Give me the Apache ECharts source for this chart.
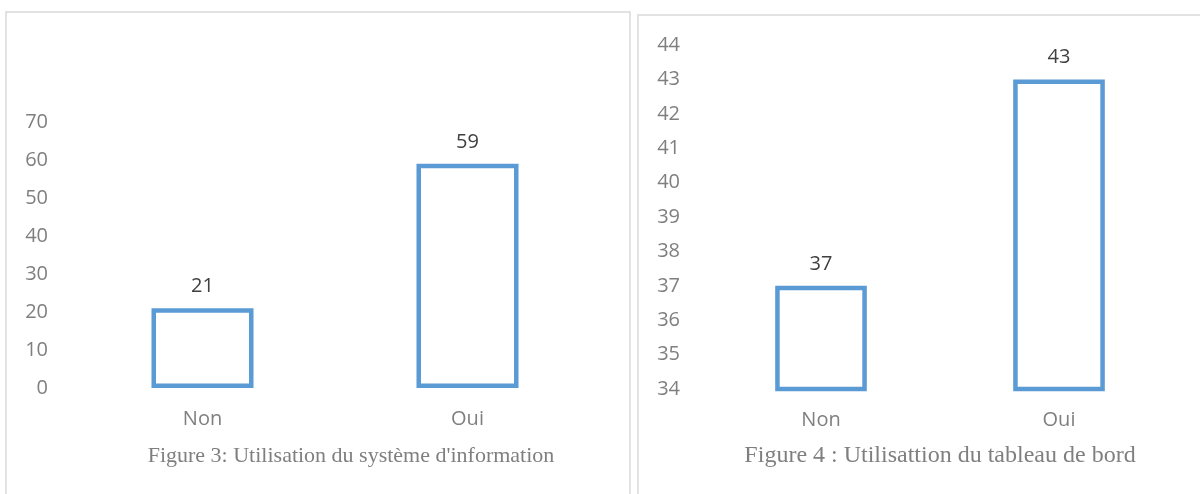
<!DOCTYPE html>
<html>
<head>
<meta charset="utf-8">
<script src="https://cdn.jsdelivr.net/npm/echarts@6/dist/echarts.min.js"></script>
<style>
  html, body { margin: 0; padding: 0; background: #fff; }
  #chart { width: 1200px; height: 494px; }
</style>
</head>
<body>
<div id="chart"></div>
<script>
// Figure 3 data
const categories = ['Non', 'Oui'];
const sysInfoValues = [21, 59];
const sysInfoTicks = [0, 10, 20, 30, 40, 50, 60, 70];
const sysInfoCaption = "Figure 3: Utilisation du système d'information";

// Figure 4 data
const tableauValues = [37, 43];
const tableauTicks = [34, 35, 36, 37, 38, 39, 40, 41, 42, 43, 44];
const tableauCaption = 'Figure 4 : Utilisattion du tableau de bord';

const sansFont = '"Open Sans", "Noto Sans", sans-serif';
const serifFont = '"Liberation Serif", "DejaVu Serif", serif';
const blue = '#5B9BD5';

function yAxisFor(ticks, gridIndex, margin) {
  return {
    type: 'value', gridIndex,
    min: ticks[0], max: ticks[ticks.length - 1],
    interval: ticks[1] - ticks[0],
    axisLine: { show: false }, axisTick: { show: false },
    splitLine: { show: false },
    axisLabel: { color: '#7f7f7f', fontSize: 20, fontFamily: sansFont, margin }
  };
}
function xAxisFor(gridIndex) {
  return {
    type: 'category', gridIndex, data: categories,
    axisLine: { show: false }, axisTick: { show: false },
    axisLabel: { color: '#7f7f7f', fontSize: 20, fontFamily: sansFont, margin: 21 }
  };
}
function barSeries(values, idx) {
  return {
    type: 'bar', xAxisIndex: idx, yAxisIndex: idx, data: values,
    barWidth: '38.5%',
    itemStyle: { color: '#ffffff', borderColor: blue, borderWidth: 4.5 },
    label: { show: true, position: 'top', distance: 12, color: '#404040',
             fontSize: 20, fontFamily: sansFont }
  };
}

const chart = echarts.init(document.getElementById('chart'), null, { renderer: 'canvas' });
chart.setOption({
  animation: false,
  backgroundColor: '#ffffff',
  grid: [
    { left: 70, width: 530, top: 122, bottom: 106 },
    { left: 702, width: 476, top: 45, bottom: 105 }
  ],
  xAxis: [xAxisFor(0), xAxisFor(1)],
  yAxis: [yAxisFor(sysInfoTicks, 0, 22), yAxisFor(tableauTicks, 1, 22)],
  series: [barSeries(sysInfoValues, 0), barSeries(tableauValues, 1)],
  graphic: [
    { type: 'rect', shape: { x: 6, y: 12, width: 624, height: 500 },
      style: { fill: 'none', stroke: '#d9d9d9', lineWidth: 1.5 }, z: -1 },
    { type: 'rect', shape: { x: 638, y: 15, width: 600, height: 500 },
      style: { fill: 'none', stroke: '#d9d9d9', lineWidth: 1.5 }, z: -1 },
    { type: 'text', x: 351, y: 456,
      style: { text: sysInfoCaption, fill: '#7f7f7f', font: '22px ' + serifFont,
               align: 'center', verticalAlign: 'middle' } },
    { type: 'text', x: 940, y: 456,
      style: { text: tableauCaption, fill: '#7f7f7f', font: '24px ' + serifFont,
               align: 'center', verticalAlign: 'middle' } }
  ]
});
</script>
</body>
</html>
